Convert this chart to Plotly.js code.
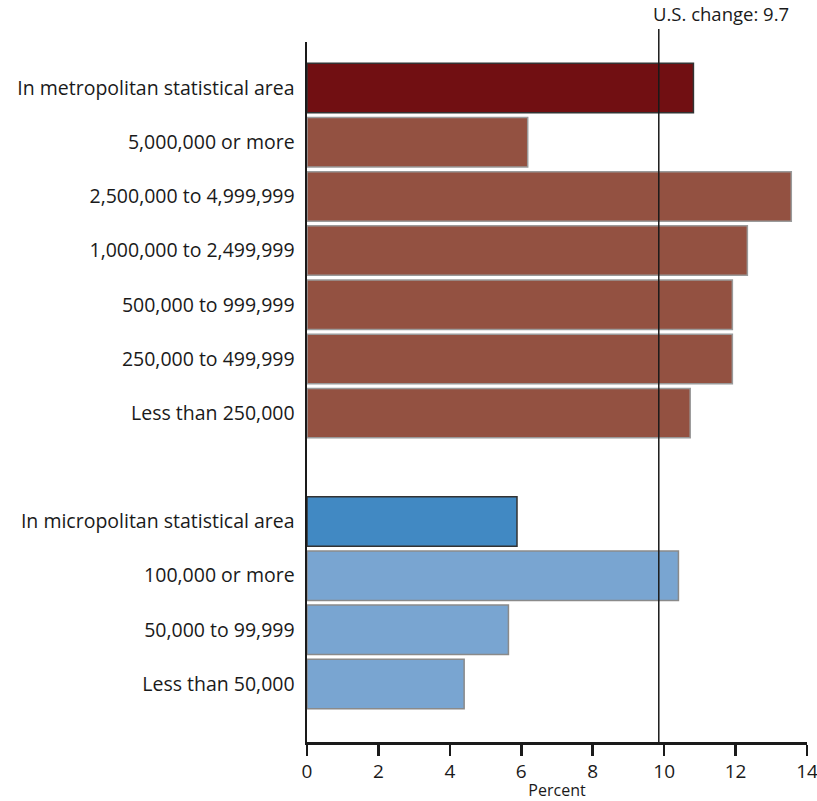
<!DOCTYPE html>
<html>
<head>
<meta charset="utf-8">
<script src="https://cdn.plot.ly/plotly-3.0.1.min.js"></script>
<style>html,body{margin:0;padding:0;background:#fff;}#chart{width:817px;height:801px;}</style>
</head>
<body>
<div id="chart"></div>
<script>
// Data
const metroCategories = [
  "In metropolitan statistical area",
  "5,000,000 or more",
  "2,500,000 to 4,999,999",
  "1,000,000 to 2,499,999",
  "500,000 to 999,999",
  "250,000 to 499,999",
  "Less than 250,000"
];
const metroValues = [10.82, 6.18, 13.56, 12.33, 11.91, 11.91, 10.73];

const microCategories = [
  "In micropolitan statistical area",
  "100,000 or more",
  "50,000 to 99,999",
  "Less than 50,000"
];
const microValues = [5.88, 10.40, 5.64, 4.40];

const usChangeLabel = "U.S. change: 9.7";
const usChangeLine = 9.85;   // position of the reference line as drawn
const xTickValues = [0, 2, 4, 6, 8, 10, 12, 14];
const xAxisTitle = "Percent";

// Styles
const metroTotalColor = "#710F12", metroSubColor = "#935141";
const microTotalColor = "#4189C3", microSubColor = "#79A5D1";
const spacer = " ";

const allCats = metroCategories.concat([spacer], microCategories);

function colorsFor(cats, total, sub) { return cats.map((c, i) => i === 0 ? total : sub); }

const traces = [
  {
    type: "bar", orientation: "h",
    y: metroCategories, x: metroValues,
    marker: { color: colorsFor(metroCategories, metroTotalColor, metroSubColor),
              line: { color: metroCategories.map((c, i) => i === 0 ? "#333333" : "#9a9a9a"), width: 1.5 } },
    hoverinfo: "x+y", showlegend: false
  },
  {
    type: "bar", orientation: "h",
    y: microCategories, x: microValues,
    marker: { color: colorsFor(microCategories, microTotalColor, microSubColor),
              line: { color: microCategories.map((c, i) => i === 0 ? "#333333" : "#8a8a8a"), width: 1.5 } },
    hoverinfo: "x+y", showlegend: false
  }
];

const layout = {
  width: 817, height: 801,
  margin: { l: 307, r: 10, t: 42, b: 59 },
  paper_bgcolor: "#fff", plot_bgcolor: "#fff",
  font: { family: "Open Sans, Noto Sans, sans-serif", color: "#1a1a1a" },
  barmode: "overlay",
  bargap: 0.087,
  xaxis: {
    range: [0, 14], tickvals: xTickValues,
    ticks: "outside", ticklen: 11, tickwidth: 2.5, tickcolor: "#1a1a1a",
    showline: true, linecolor: "#1a1a1a", linewidth: 2.5,
    showgrid: false, zeroline: false,
    ticklabeloverflow: "allow",
    tickfont: { size: 19, color: "#1a1a1a" },
    title: { text: xAxisTitle, font: { size: 16, color: "#1a1a1a" }, standoff: 5 },
    fixedrange: true
  },
  yaxis: {
    type: "category", categoryorder: "array", categoryarray: allCats,
    range: [allCats.length - 1 + 1.07, -0.85],
    showline: true, linecolor: "#1a1a1a", linewidth: 2.5,
    ticks: "", showgrid: false, zeroline: false,
    tickfont: { size: 19.5, color: "#1a1a1a" },
    ticklabelstandoff: 6,
    fixedrange: true
  },
  shapes: [{
    type: "line", xref: "x", yref: "paper",
    x0: usChangeLine, x1: usChangeLine, y0: 0, y1: 1.0186,
    line: { color: "#1a1a1a", width: 1.5 }
  }],
  annotations: [{
    xref: "x", yref: "paper", x: usChangeLine + 1.75, y: 1.04,
    xanchor: "center", yanchor: "middle", showarrow: false,
    text: usChangeLabel, font: { size: 18.5, color: "#1a1a1a" }
  }]
};

Plotly.newPlot("chart", traces, layout, { displayModeBar: false, staticPlot: true });
</script>
</body>
</html>
